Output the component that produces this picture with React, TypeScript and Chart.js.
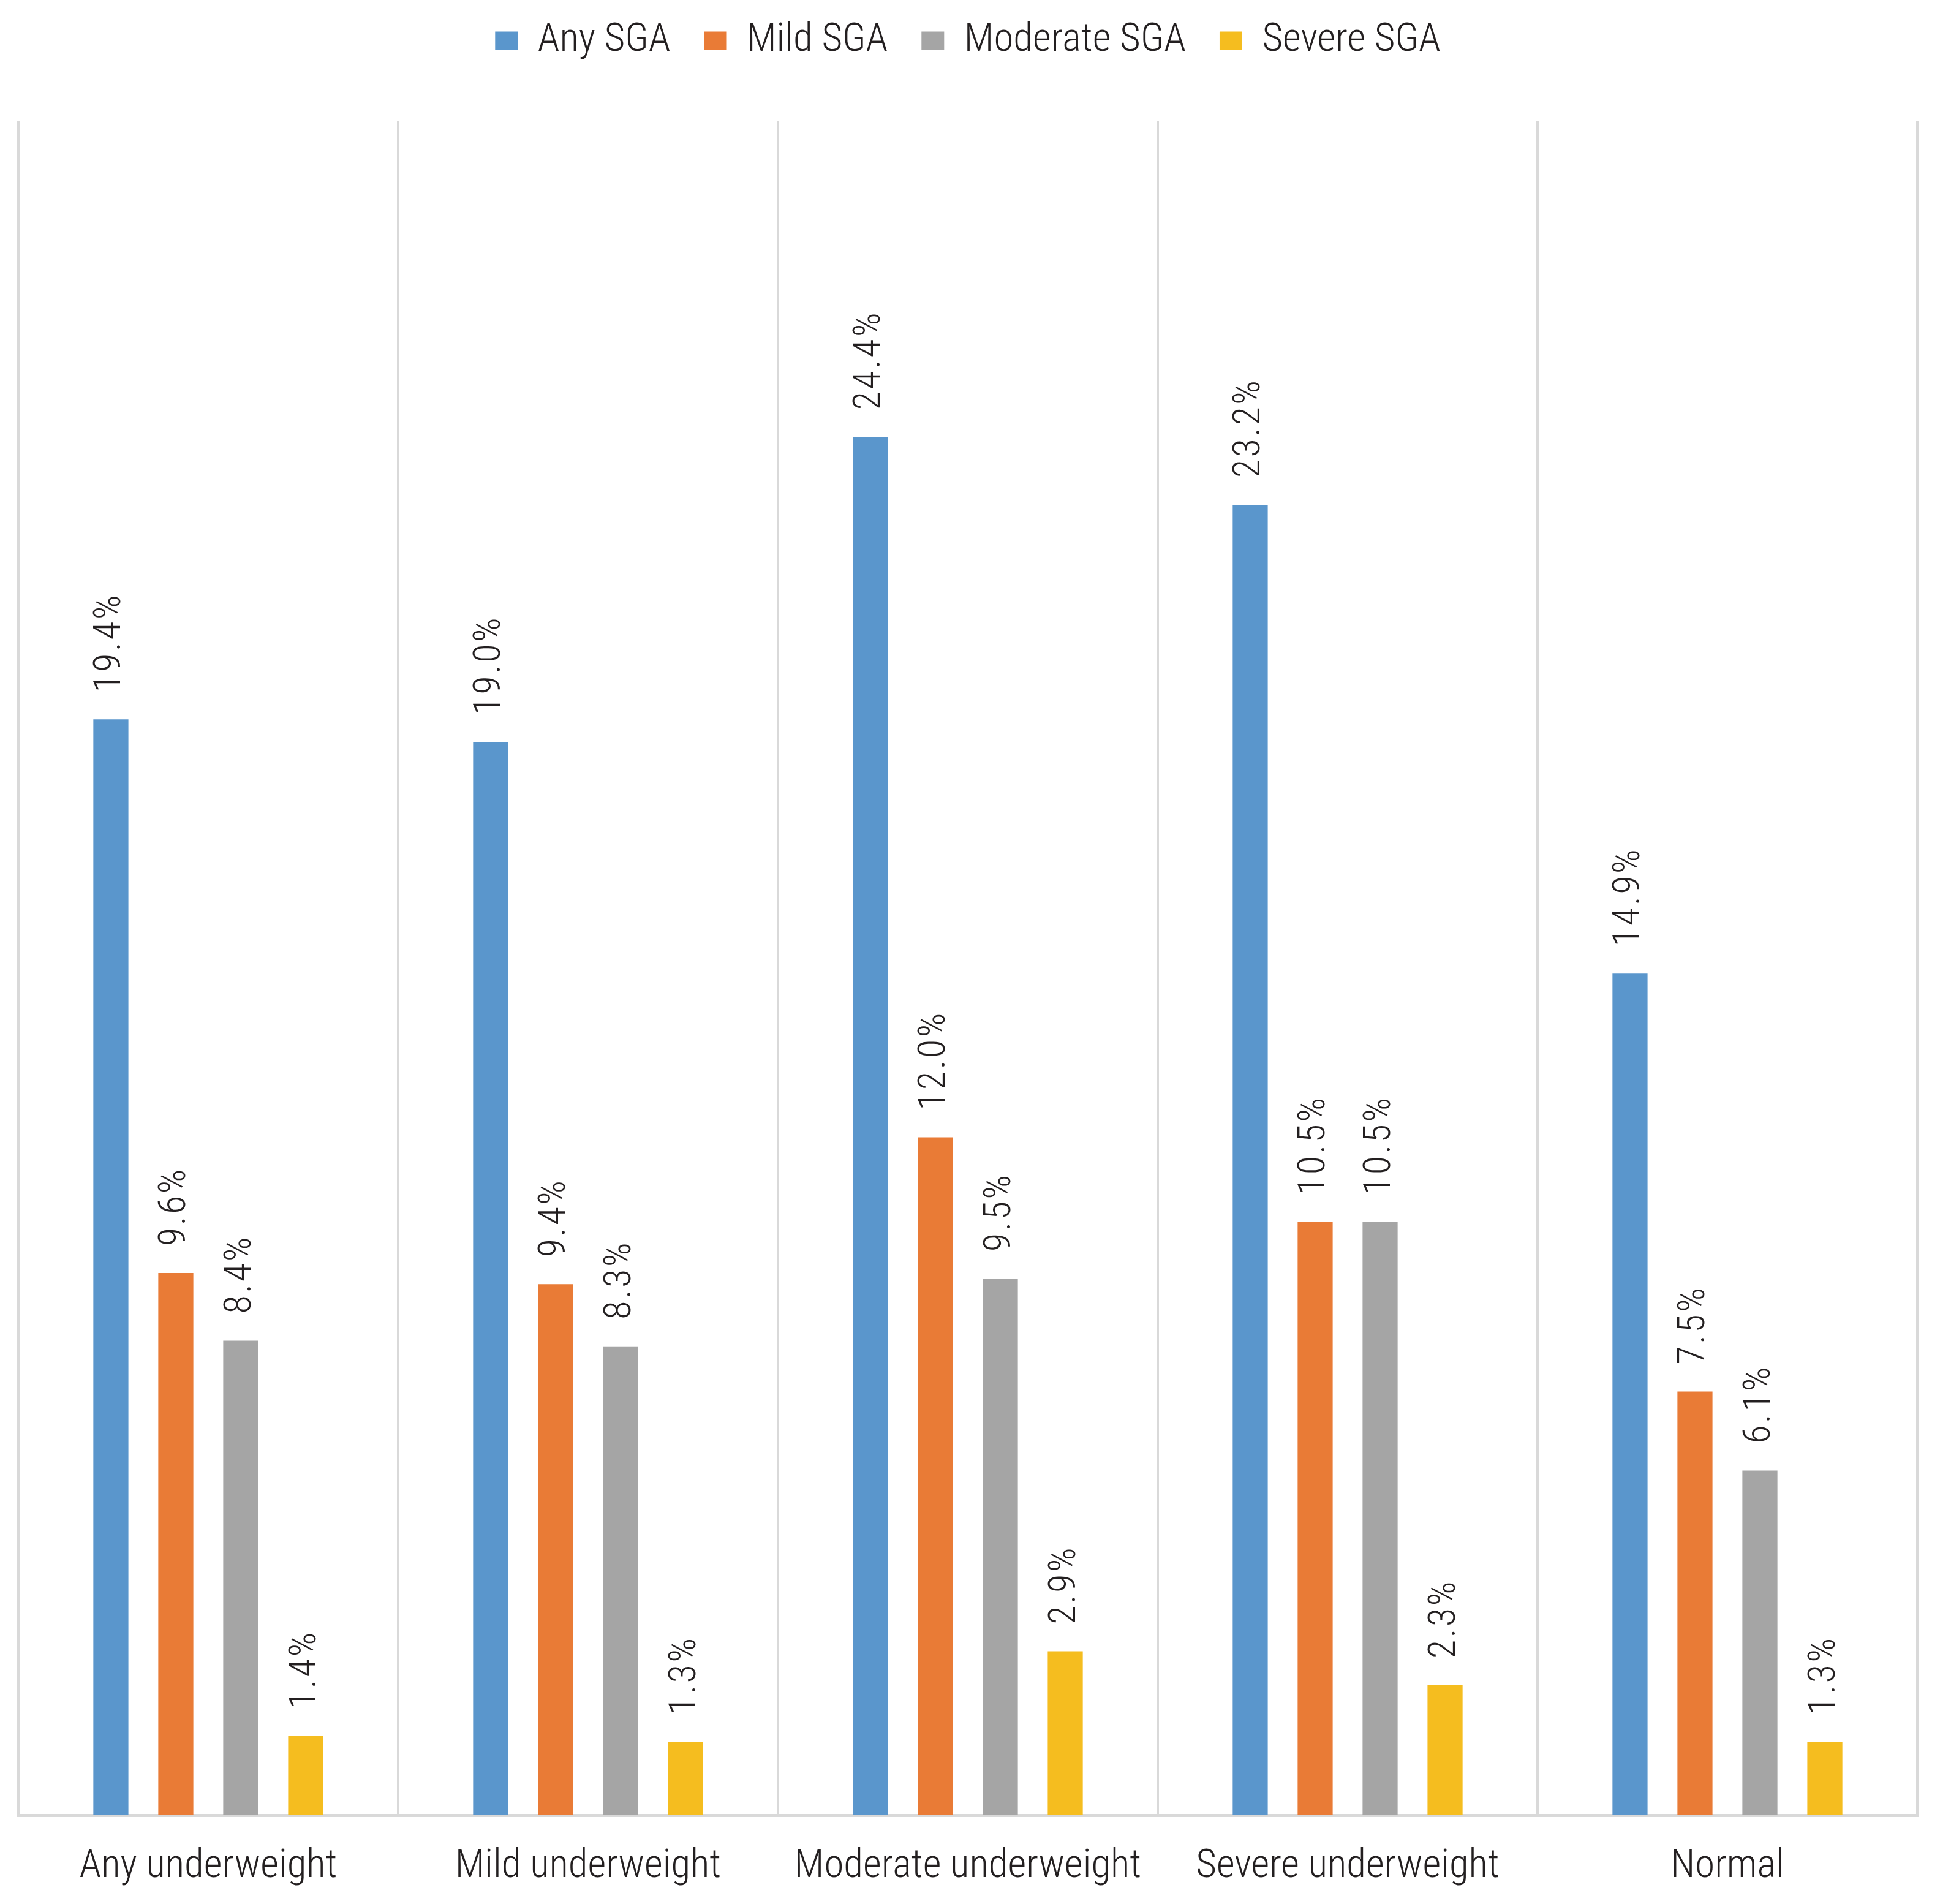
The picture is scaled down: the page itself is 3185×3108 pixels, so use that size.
import React, { useEffect, useRef } from "react";
import { Chart, registerables } from "chart.js";

Chart.register(...registerables);

const categories = [
  "Any underweight",
  "Mild underweight",
  "Moderate underweight",
  "Severe underweight",
  "Normal",
];
const seriesNames = ["Any SGA", "Mild SGA", "Moderate SGA", "Severe SGA"];
const anySGA = [19.4, 19.0, 24.4, 23.2, 14.9];
const mildSGA = [9.6, 9.4, 12.0, 10.5, 7.5];
const moderateSGA = [8.4, 8.3, 9.5, 10.5, 6.1];
const severeSGA = [1.4, 1.3, 2.9, 2.3, 1.3];
const seriesColors = ["#5A96CC", "#E97B36", "#A5A5A5", "#F5BD1F"];

const W = 3185;
const H = 3108;
const TEXT = "#231F20";
const FAMILY = "Roboto, 'Open Sans', sans-serif";

const layoutPlugin = {
  id: "layoutTweak",
  beforeInit(chart: any) {
    const legend = chart.legend;
    if (legend) {
      const orig = legend.fit;
      legend.fit = function () {
        orig.call(this);
        this.height = 197;
      };
    }
  },
  afterLayout(chart: any) {
    const legend = chart.legend;
    if (legend) {
      legend.top = -21;
      legend.bottom = 176;
    }
  },
};

const valueLabelPlugin = {
  id: "valueLabels",
  afterDatasetsDraw(chart: any) {
    const ctx = chart.ctx;
    chart.data.datasets.forEach((ds: any, di: number) => {
      const meta = chart.getDatasetMeta(di);
      meta.data.forEach((el: any, i: number) => {
        const v = ds.data[i] as number;
        ctx.save();
        ctx.translate(el.x, el.y - 44);
        ctx.rotate(-Math.PI / 2);
        ctx.font = `300 condensed 62px ${FAMILY}`;
        (ctx as any).letterSpacing = "3.5px";
        ctx.fillStyle = TEXT;
        ctx.textAlign = "left";
        ctx.textBaseline = "middle";
        ctx.fillText(v.toFixed(1) + "%", 0, 0);
        ctx.restore();
      });
    });
  },
};

export default function App() {
  const ref = useRef<HTMLCanvasElement | null>(null);
  useEffect(() => {
    document.body.style.margin = "0";
    const canvas = ref.current;
    if (!canvas) return;
    const seriesData = [anySGA, mildSGA, moderateSGA, severeSGA];
    const chart = new Chart(canvas, {
      type: "bar",
      data: {
        labels: categories,
        datasets: seriesNames.map((name, k) => ({
          label: name,
          data: seriesData[k],
          backgroundColor: seriesColors[k],
          borderWidth: 0,
          categoryPercentage: 0.684,
          barPercentage: 0.54,
        })),
      },
      options: {
        responsive: false,
        animation: false,
        devicePixelRatio: 1,
        layout: { padding: { left: 30, right: 55, top: 0, bottom: 0 } },
        plugins: {
          tooltip: { enabled: false },
          legend: {
            position: "top",
            labels: {
              boxWidth: 37,
              boxHeight: 30,
              padding: 55,
              color: TEXT,
              font: { size: 65, family: FAMILY, weight: "300 condensed" as any },
            },
          },
        },
        scales: {
          x: {
            grid: {
              display: true,
              color: "#D9D9D9",
              lineWidth: 4,
              drawTicks: false,
              offset: true,
            },
            border: { display: true, color: "#D9D9D9", width: 5 },
            ticks: {
              color: TEXT,
              padding: 46,
              font: { size: 65, family: FAMILY, weight: "300 condensed" as any },
              maxRotation: 0,
              autoSkip: false,
            },
            afterFit(scale: any) {
              scale.height = 145;
            },
          },
          y: {
            display: false,
            min: 0,
            max: 30,
          },
        },
      },
      plugins: [layoutPlugin, valueLabelPlugin],
    });
    return () => chart.destroy();
  }, []);
  return (
    <canvas
      ref={ref}
      width={W}
      height={H}
      style={{ display: "block", width: W, height: H }}
    />
  );
}
